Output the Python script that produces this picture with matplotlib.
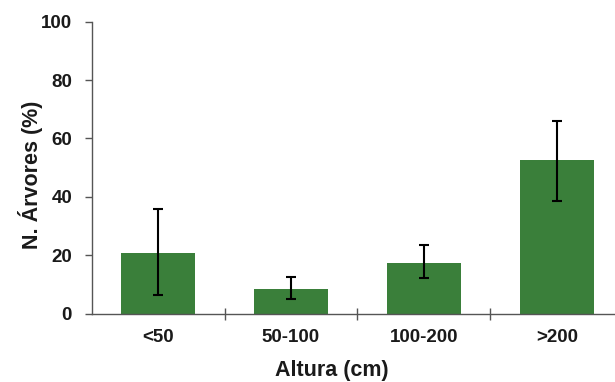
import numpy as np
import matplotlib
matplotlib.use('Agg')
import matplotlib.pyplot as plt

# --- Data ---
categories = ['<50', '50-100', '100-200', '>200']
values = [20.6, 8.5, 17.4, 52.5]
err_low = [14.2, 3.6, 5.2, 13.8]
err_high = [15.1, 4.1, 6.0, 13.4]

BAR_COLOR = '#3a7f3a'
AXIS_COLOR = '#555555'
TEXT_COLOR = '#1a1a1a'

plt.rcParams['font.family'] = ['Liberation Sans', 'DejaVu Sans']
plt.rcParams['font.weight'] = 'bold'

fig = plt.figure(figsize=(6.15, 3.82), dpi=100)
# axes spans past right edge, as in the cropped original
ax = fig.add_axes([91.5 / 615, 1 - 313.5 / 382, 532 / 615, 291.7 / 382])

x = np.arange(len(categories))
ax.bar(x, values, width=0.55, color=BAR_COLOR, zorder=2)
ax.errorbar(x, values, yerr=[err_low, err_high], fmt='none', ecolor='black',
            elinewidth=1.5, capsize=3.3, capthick=1.5, zorder=3)

ax.set_xlim(-0.5, len(categories) - 0.5)
ax.set_ylim(0, 100)
ax.set_yticks(np.arange(0, 101, 20))

# category labels at centres, ticks at boundaries
ax.set_xticks(x)
ax.set_xticklabels(categories, fontsize=13.5, fontweight='bold', color=TEXT_COLOR)
ax.tick_params(axis='x', which='major', length=0, pad=11)
ax.set_xticks(np.arange(0.5, len(categories) - 0.5, 1), minor=True)
ax.tick_params(axis='x', which='minor', direction='inout', length=9,
               width=1, color=AXIS_COLOR)

ax.tick_params(axis='y', direction='out', length=5, width=1, color=AXIS_COLOR,
               labelsize=13.5, labelcolor=TEXT_COLOR, pad=9)
for lab in ax.get_yticklabels():
    lab.set_fontweight('bold')

for side in ['top', 'right']:
    ax.spines[side].set_visible(False)
for side in ['left', 'bottom']:
    ax.spines[side].set_color(AXIS_COLOR)
    ax.spines[side].set_linewidth(1)

ax.set_ylabel('N. Árvores (%)', fontsize=15.5, fontweight='bold', color=TEXT_COLOR)
ax.yaxis.label.set_va('center')
ax.yaxis.set_label_coords(-0.1156, 0.475)
ax.set_xlabel('Altura (cm)', fontsize=15.5, fontweight='bold', color=TEXT_COLOR)
ax.xaxis.label.set_va('center')
ax.xaxis.set_label_coords(0.452, -0.194)

plt.savefig('out.png', dpi=100)
plt.close()
